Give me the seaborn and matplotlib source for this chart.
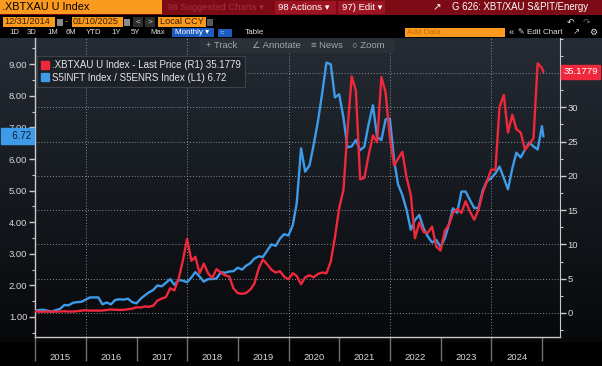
# Bloomberg style chart: XBT/XAU vs S&P IT / Energy ratio

import pandas as pd
import numpy as np
import matplotlib
matplotlib.use('Agg')
import matplotlib.pyplot as plt
from matplotlib.colors import LinearSegmentedColormap
from matplotlib.patches import Rectangle
from matplotlib.lines import Line2D
from matplotlib.ticker import MultipleLocator, FixedLocator, NullFormatter
import seaborn as sns

# month-end points from Dec 2014 to Dec 2024, plus the last print on 10 Jan 2025
dates = list(pd.date_range('2014-12-31', '2024-12-31', freq='ME')) + [pd.Timestamp('2025-01-10')]

# .XBTXAU U Index - last price (right axis)
xbt_xau = [
    0.27, 0.18, 0.20, 0.20, 0.20, 0.20, 0.22, 0.26, 0.21, 0.21, 0.27, 0.35,
    0.40, 0.34, 0.36, 0.35, 0.36, 0.44, 0.51, 0.47, 0.44, 0.46, 0.55, 0.63,
    0.83, 0.80, 0.95, 0.90, 1.06, 1.80, 2.10, 2.30, 3.60, 3.30, 5.00, 7.60,
    10.8, 7.60, 8.20, 5.80, 7.20, 5.80, 5.10, 6.40, 5.90, 5.50, 5.30, 3.60,
    2.90, 2.80, 2.90, 3.40, 4.30, 6.50, 7.80, 7.10, 6.30, 5.90, 6.10, 5.30,
    4.90, 5.80, 5.40, 4.20, 5.20, 5.50, 5.20, 5.70, 5.90, 5.80, 7.50, 11.0,
    15.3, 18.0, 26.5, 34.5, 32.4, 19.5, 19.7, 23.0, 25.9, 24.9, 34.4, 32.2,
    25.6, 21.5, 22.5, 23.5, 19.8, 17.2, 10.9, 13.2, 11.8, 11.7, 12.6, 9.70,
    9.10, 12.0, 12.8, 14.6, 15.2, 14.6, 16.3, 14.8, 13.6, 15.0, 17.5, 19.2,
    20.9, 20.9, 30.0, 31.8, 26.3, 28.9, 26.8, 26.3, 23.8, 24.6, 25.5, 36.4,
    35.7, 35.1779,
]

# S5INFT Index / S5ENRS Index (left axis)
it_energy = [
    1.20, 1.22, 1.23, 1.20, 1.17, 1.22, 1.26, 1.38, 1.37, 1.45, 1.47, 1.48,
    1.55, 1.62, 1.62, 1.62, 1.40, 1.46, 1.40, 1.54, 1.56, 1.55, 1.58, 1.47,
    1.43, 1.58, 1.68, 1.78, 1.85, 2.00, 1.97, 2.08, 2.20, 2.02, 2.17, 2.15,
    2.10, 2.25, 2.42, 2.28, 2.12, 2.20, 2.20, 2.22, 2.42, 2.40, 2.44, 2.45,
    2.56, 2.50, 2.62, 2.70, 2.85, 2.92, 2.90, 3.10, 3.30, 3.25, 3.48, 3.62,
    3.58, 3.90, 4.60, 6.34, 5.60, 5.80, 6.45, 7.20, 8.10, 9.05, 9.00, 7.95,
    8.05, 7.30, 6.37, 6.40, 6.60, 6.28, 6.39, 7.10, 7.70, 6.70, 6.60, 7.25,
    7.28, 5.95, 5.20, 4.86, 4.40, 3.76, 4.07, 4.23, 3.81, 3.55, 3.36, 3.44,
    3.22, 3.49, 3.91, 4.44, 4.30, 4.97, 4.97, 4.70, 4.45, 4.45, 5.00, 5.30,
    5.39, 5.55, 5.76, 5.40, 5.04, 5.70, 6.20, 6.05, 6.30, 6.52, 6.40, 6.30,
    7.04, 6.72,
]

years = list(range(2015, 2025))
left_ticks = [1.0, 2.0, 3.0, 4.0, 5.0, 6.0, 7.0, 8.0, 9.0]
right_ticks = [0, 5, 10, 15, 20, 25, 30, 35]
grid_years = [2016, 2018, 2020, 2022, 2024]

legend_labels = ['.XBTXAU U Index - Last Price (R1) 35.1779',
                 'S5INFT Index / S5ENRS Index (L1) 6.72']

df = pd.DataFrame({'date': dates, 'xbt_xau': xbt_xau, 'it_energy': it_energy})

RED = '#f0283c'
BLUE = '#3d9be9'
ORANGE = '#fb9a1e'
AXIS = '#c8c8c8'
TEXT = '#d8d8d8'

plt.rcParams['font.family'] = ['Liberation Sans', 'DejaVu Sans']

W, H = 602, 366
fig = plt.figure(figsize=(W / 100, H / 100), dpi=100, facecolor='black')


def fx(px):
    return px / W


def fy(py):
    return 1 - py / H


x_lo, x_hi = pd.Timestamp('2014-12-31'), pd.Timestamp('2025-05-10')
plot_box = [fx(35), fy(337), fx(560) - fx(35), (337 - 38) / H]

# dark gradient behind the plot
bg = fig.add_axes([0, fy(342), 1, (342 - 38) / H])
bg.set_zorder(0)
cmap = LinearSegmentedColormap.from_list('bbg', ['#262c35', '#161a20', '#07080a'])
bg.imshow(np.linspace(0, 1, 256).reshape(-1, 1), aspect='auto', cmap=cmap,
          extent=[0, 1, 0, 1])
bg.axis('off')

# grid layer (follows the right axis)
gax = fig.add_axes(plot_box)
gax.set_zorder(1)
gax.patch.set_visible(False)
gax.set_xlim(x_lo, x_hi)
gax.set_ylim(-3.5, 40.1)
for v in right_ticks:
    gax.axhline(v, color='#8a8e96', lw=0.7, ls=(0, (1, 2)))
for y in grid_years:
    gax.axvline(pd.Timestamp(f'{y}-01-01'), color='#8a8e96', lw=0.7, ls=(0, (1, 2)))
gax.axis('off')

# main axes: blue ratio on the left
ax = fig.add_axes(plot_box)
ax.set_zorder(2)
ax.patch.set_visible(False)
sns.lineplot(data=df, x='date', y='it_energy', ax=ax, color=BLUE, linewidth=1.7)
ax.set_xlim(x_lo, x_hi)
ax.set_ylim(0.367, 9.83)
ax.set_xlabel('')
ax.set_ylabel('')
ax.set_yticks(left_ticks)
ax.set_yticklabels([f'{v:.2f}' for v in left_ticks])
ax.yaxis.set_minor_locator(MultipleLocator(0.5))
ax.tick_params(axis='y', which='major', direction='out', length=4, width=1,
               color=AXIS, labelcolor=TEXT, labelsize=6.8, pad=1.5)
ax.tick_params(axis='y', which='minor', direction='out', length=2, width=0.8, color=AXIS)

# year ticks: boundaries as long marks, labels centred mid-year
ax.xaxis.set_major_locator(FixedLocator(matplotlib.dates.date2num(
    [pd.Timestamp(f'{y}-01-01') for y in years + [2025]])))
ax.xaxis.set_major_formatter(NullFormatter())
ax.xaxis.set_minor_locator(FixedLocator(matplotlib.dates.date2num(
    [pd.Timestamp(f'{y}-07-02') for y in years])))
ax.xaxis.set_minor_formatter(matplotlib.ticker.FixedFormatter([str(y) for y in years]))
ax.tick_params(axis='x', which='major', direction='out', length=17, width=1, color='#6e6e6e')
ax.tick_params(axis='x', which='minor', length=0, labelcolor=TEXT, labelsize=6.8, pad=11.5)
for s in ['top', 'right']:
    ax.spines[s].set_visible(False)
for s in ['left', 'bottom']:
    ax.spines[s].set_color(AXIS)
    ax.spines[s].set_linewidth(1)

# twin axes: red XBT/XAU on the right
ax2 = ax.twinx()
ax2.set_zorder(3)
ax2.patch.set_visible(False)
sns.lineplot(data=df, x='date', y='xbt_xau', ax=ax2, color=RED, linewidth=1.7)
ax2.set_xlim(x_lo, x_hi)
ax2.set_ylim(-3.5, 40.1)
ax2.set_ylabel('')
ax2.set_yticks(right_ticks)
# the top label sits under the last-value tag
ax2.set_yticklabels([str(v) if v < 35 else '' for v in right_ticks])
ax2.yaxis.set_minor_locator(MultipleLocator(2.5))
ax2.tick_params(axis='y', which='major', direction='out', length=4, width=1,
                color=AXIS, labelcolor=TEXT, labelsize=6.8, pad=1.5)
ax2.tick_params(axis='y', which='minor', direction='out', length=2, width=0.8, color=AXIS)
for s in ['top', 'left', 'bottom']:
    ax2.spines[s].set_visible(False)
ax2.spines['right'].set_color(AXIS)

# last value tags
ax2.annotate(f'{xbt_xau[-1]:.4f}', xy=(1, xbt_xau[-1]), xycoords=('axes fraction', 'data'),
             xytext=(2.5, 0), textcoords='offset points', ha='left', va='center',
             fontsize=6.8, color='white', annotation_clip=False,
             bbox=dict(boxstyle='square,pad=0.25', fc=RED, ec=RED))
ax.annotate(f'   {it_energy[-1]:.2f}', xy=(0, it_energy[-1]), xycoords=('axes fraction', 'data'),
            xytext=(-3, 0), textcoords='offset points', ha='right', va='center',
            fontsize=7, color='#0d1b2e', annotation_clip=False,
            bbox=dict(boxstyle='square,pad=0.3', fc=BLUE, ec=BLUE))

# legend
handles = [Line2D([], [], marker='s', color=RED, ls='none', markersize=6),
           Line2D([], [], marker='s', color=BLUE, ls='none', markersize=6)]
leg = ax2.legend(handles, legend_labels, loc='upper left',
                 bbox_to_anchor=(fx(37), fy(56)), bbox_transform=fig.transFigure,
                 fontsize=7, labelcolor='#e6e6e6', frameon=True, fancybox=False,
                 facecolor='#1d2128', edgecolor='#3c4048', framealpha=1,
                 handlelength=0.7, handletextpad=0.4, borderpad=0.45,
                 labelspacing=0.25, borderaxespad=0)
leg.get_frame().set_linewidth(0.8)

# terminal header and toolbars, drawn in pixel coordinates
hdr = fig.add_axes([0, 0, 1, 1])
hdr.set_zorder(10)
hdr.patch.set_visible(False)
hdr.set_xlim(0, W)
hdr.set_ylim(H, 0)
hdr.axis('off')


def box(x, y, w, h, color, **kw):
    hdr.add_patch(Rectangle((x, y), w, h, fc=color, ec='none', **kw))


def txt(x, y, s, size=6.8, color='white', **kw):
    hdr.text(x, y, s, fontsize=size, color=color, va='center', **kw)


# row 1: security and menus
box(0, 0, W, 15, '#7d0b16')
box(0, 0, 162, 14, ORANGE)
txt(2, 7.2, '.XBTXAU U Index', size=7.8, color='black')
txt(167, 7.2, '98 Suggested Charts \u25be', color='#a6303d')
box(275, 1, 61, 13, '#9c1422')
txt(278, 7.2, '98 Actions \u25be')
box(338, 1, 47, 13, '#9c1422')
txt(342, 7.2, '97) Edit \u25be')
txt(433, 7.2, '\u2197', size=7.5)
txt(452, 7.2, 'G 626: XBT/XAU S&PIT/Energy', size=6.9)

# row 2: date range and currency
box(3, 17, 52, 10, ORANGE)
txt(4, 22, '12/31/2014', size=6.6, color='#3a2000')
box(57, 18.5, 6, 7, '#8a8a8a')
txt(65, 22, '-', size=6.6, color=ORANGE)
box(72, 17, 51, 10, ORANGE)
txt(73, 22, '01/10/2025', size=6.6, color='#3a2000')
box(124, 18.5, 6, 7, '#8a8a8a')
box(133, 17, 10, 10, '#2e2e2e')
txt(136, 22, '<', size=6, color='#cccccc')
box(145, 17, 10, 10, '#2e2e2e')
txt(148, 22, '>', size=6, color='#cccccc')
box(158, 17, 48, 10, ORANGE)
txt(160, 22, 'Local CCY', size=6.6, color='#3a2000')
box(207, 18.5, 6, 7, '#5a5a5a')
txt(567, 22, '\u21b6', size=6.5, color='#dddddd')
txt(583, 22, '\u21b7', size=6.5, color='#666666')

# row 3: periods and chart tools
for x, s in [(9, '1D'), (27, '3D'), (47, '1M'), (66, '6M'), (86, 'YTD'),
             (111, '1Y'), (131, '5Y'), (150, 'Max')]:
    txt(x, 32.5, s, size=5.6, color='#dddddd')
box(172, 28, 42, 9, '#1e5bbf')
txt(175, 32.5, 'Monthly \u25be', size=5.8)
box(218, 28.5, 14, 8, '#1e5bbf')
txt(220, 32.5, '\u2248', size=6, color='#9cc4f5')
txt(245, 32.5, 'Table', size=5.8, color='#dddddd')
box(405, 28, 100, 9, ORANGE)
txt(407, 32.5, 'Add Data', size=5.8, color='#c06a08')
txt(509, 32.5, '\u00ab', size=6.5, color='#dddddd')
txt(518, 32.5, '\u270e Edit Chart', size=5.8, color='#dddddd')
txt(573, 32.5, '\u2197', size=6, color='#dddddd')
txt(589, 32.5, '\u2699', size=6.5, color='#dddddd')

# in-chart toolbar
box(200, 39, 195, 14, '#2b3037')
txt(206, 46, '+ Track', color='#a0a6ae')
txt(252, 46, '\u2220 Annotate', color='#a0a6ae')
txt(311, 46, '\u2261 News', color='#a0a6ae')
txt(352, 46, '\u25cb Zoom', color='#a0a6ae')

fig.savefig('out.png', dpi=100, facecolor='black')
